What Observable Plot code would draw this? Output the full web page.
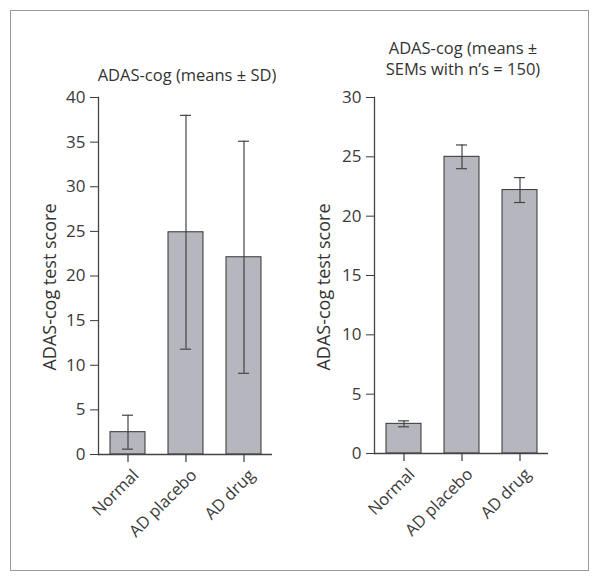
<!DOCTYPE html>
<html>
<head>
<meta charset="utf-8">
<script src="https://cdn.jsdelivr.net/npm/d3@7"></script>
<script src="https://cdn.jsdelivr.net/npm/@observablehq/plot@0.6"></script>
<style>
  html, body { margin: 0; padding: 0; background: #fff; }
  #page { position: relative; width: 602px; height: 584px; overflow: hidden; font-family: "Open Sans", sans-serif; color: #333; }
  #frame { position: absolute; left: 10px; top: 10px; width: 579px; height: 561px; border: 1.5px solid #999; box-sizing: border-box; }
  .chart { position: absolute; top: 0; }
  .title { position: absolute; font-size: 16.5px; line-height: 21px; text-align: center; white-space: nowrap; transform: translateX(-50%); }
  .ylab { position: absolute; font-size: 18px; white-space: nowrap; transform: translate(-50%, -50%) rotate(-90deg); }
  .xlab text { font-size: 16.5px; }
</style>
</head>
<body>
<div id="page">
  <div id="frame"></div>
  <div id="left" class="chart" style="left:0px"></div>
  <div id="right" class="chart" style="left:300px"></div>
  <div class="title" style="left:187px; top:64px">ADAS-cog (means ± SD)</div>
  <div class="title" style="left:463px; top:37px">ADAS-cog (means ±<br>SEMs with n’s = 150)</div>
  <div class="ylab" style="left:49px; top:287px">ADAS-cog test score</div>
  <div class="ylab" style="left:323px; top:287px">ADAS-cog test score</div>
</div>
<script>
const categories = ["Normal", "AD placebo", "AD drug"];
const sdMeans = [2.5, 24.9, 22.1];
const sdErrors = [1.9, 13.1, 13.0];
const semMeans = [2.5, 25.0, 22.2];
const semErrors = [0.25, 1.0, 1.05];
const sdTicks = [0, 5, 10, 15, 20, 25, 30, 35, 40];
const semTicks = [0, 5, 10, 15, 20, 25, 30];

function chart({means, errors, yMax, ticks, width, height, baseline, marginLeft, marginRight}) {
  const data = categories.map((c, i) => ({cat: c, mean: means[i], lo: means[i] - errors[i], hi: means[i] + errors[i]}));
  return Plot.plot({
    width, height, marginLeft, marginRight, marginTop: 97, marginBottom: height - baseline,
    style: {fontFamily: "Open Sans, sans-serif", fontSize: "17px", color: "#3a3a3a", background: "transparent", overflow: "visible"},
    x: {domain: categories, paddingInner: 0.4, paddingOuter: 0.2, label: null},
    y: {domain: [0, yMax], ticks, tickSize: 8, tickPadding: 5, label: null},
    marks: [
      Plot.barY(data, {x: "cat", y: "mean", fill: "#b5b6be", stroke: "#333", strokeWidth: 1}),
      Plot.ruleX(data, {x: "cat", y1: "lo", y2: "hi", stroke: "#444", strokeWidth: 1.2}),
      Plot.tickY(data, {x: "cat", y: "hi", insetLeft: 12, insetRight: 12, stroke: "#444", strokeWidth: 1.2}),
      Plot.tickY(data, {x: "cat", y: "lo", insetLeft: 12, insetRight: 12, stroke: "#444", strokeWidth: 1.2}),
      Plot.axisX({tickSize: 8, tickFormat: () => "", label: null, strokeWidth: 1.2}),
      Plot.axisX({tickSize: 0, tickRotate: -45, tickPadding: 10, dx: 8, dy: 8, label: null, className: "xlab"}),
      Plot.ruleY([0], {stroke: "#444", strokeWidth: 1.3}),
      Plot.frame({anchor: "left", stroke: "#444", strokeWidth: 1.3})
    ]
  });
}

document.getElementById("left").append(chart({means: sdMeans, errors: sdErrors, yMax: 40, ticks: sdTicks, width: 300, height: 560, baseline: 454, marginLeft: 98, marginRight: 28}));
document.getElementById("right").append(chart({means: semMeans, errors: semErrors, yMax: 30, ticks: semTicks, width: 290, height: 560, baseline: 453, marginLeft: 74, marginRight: 42}));
</script>
</body>
</html>
